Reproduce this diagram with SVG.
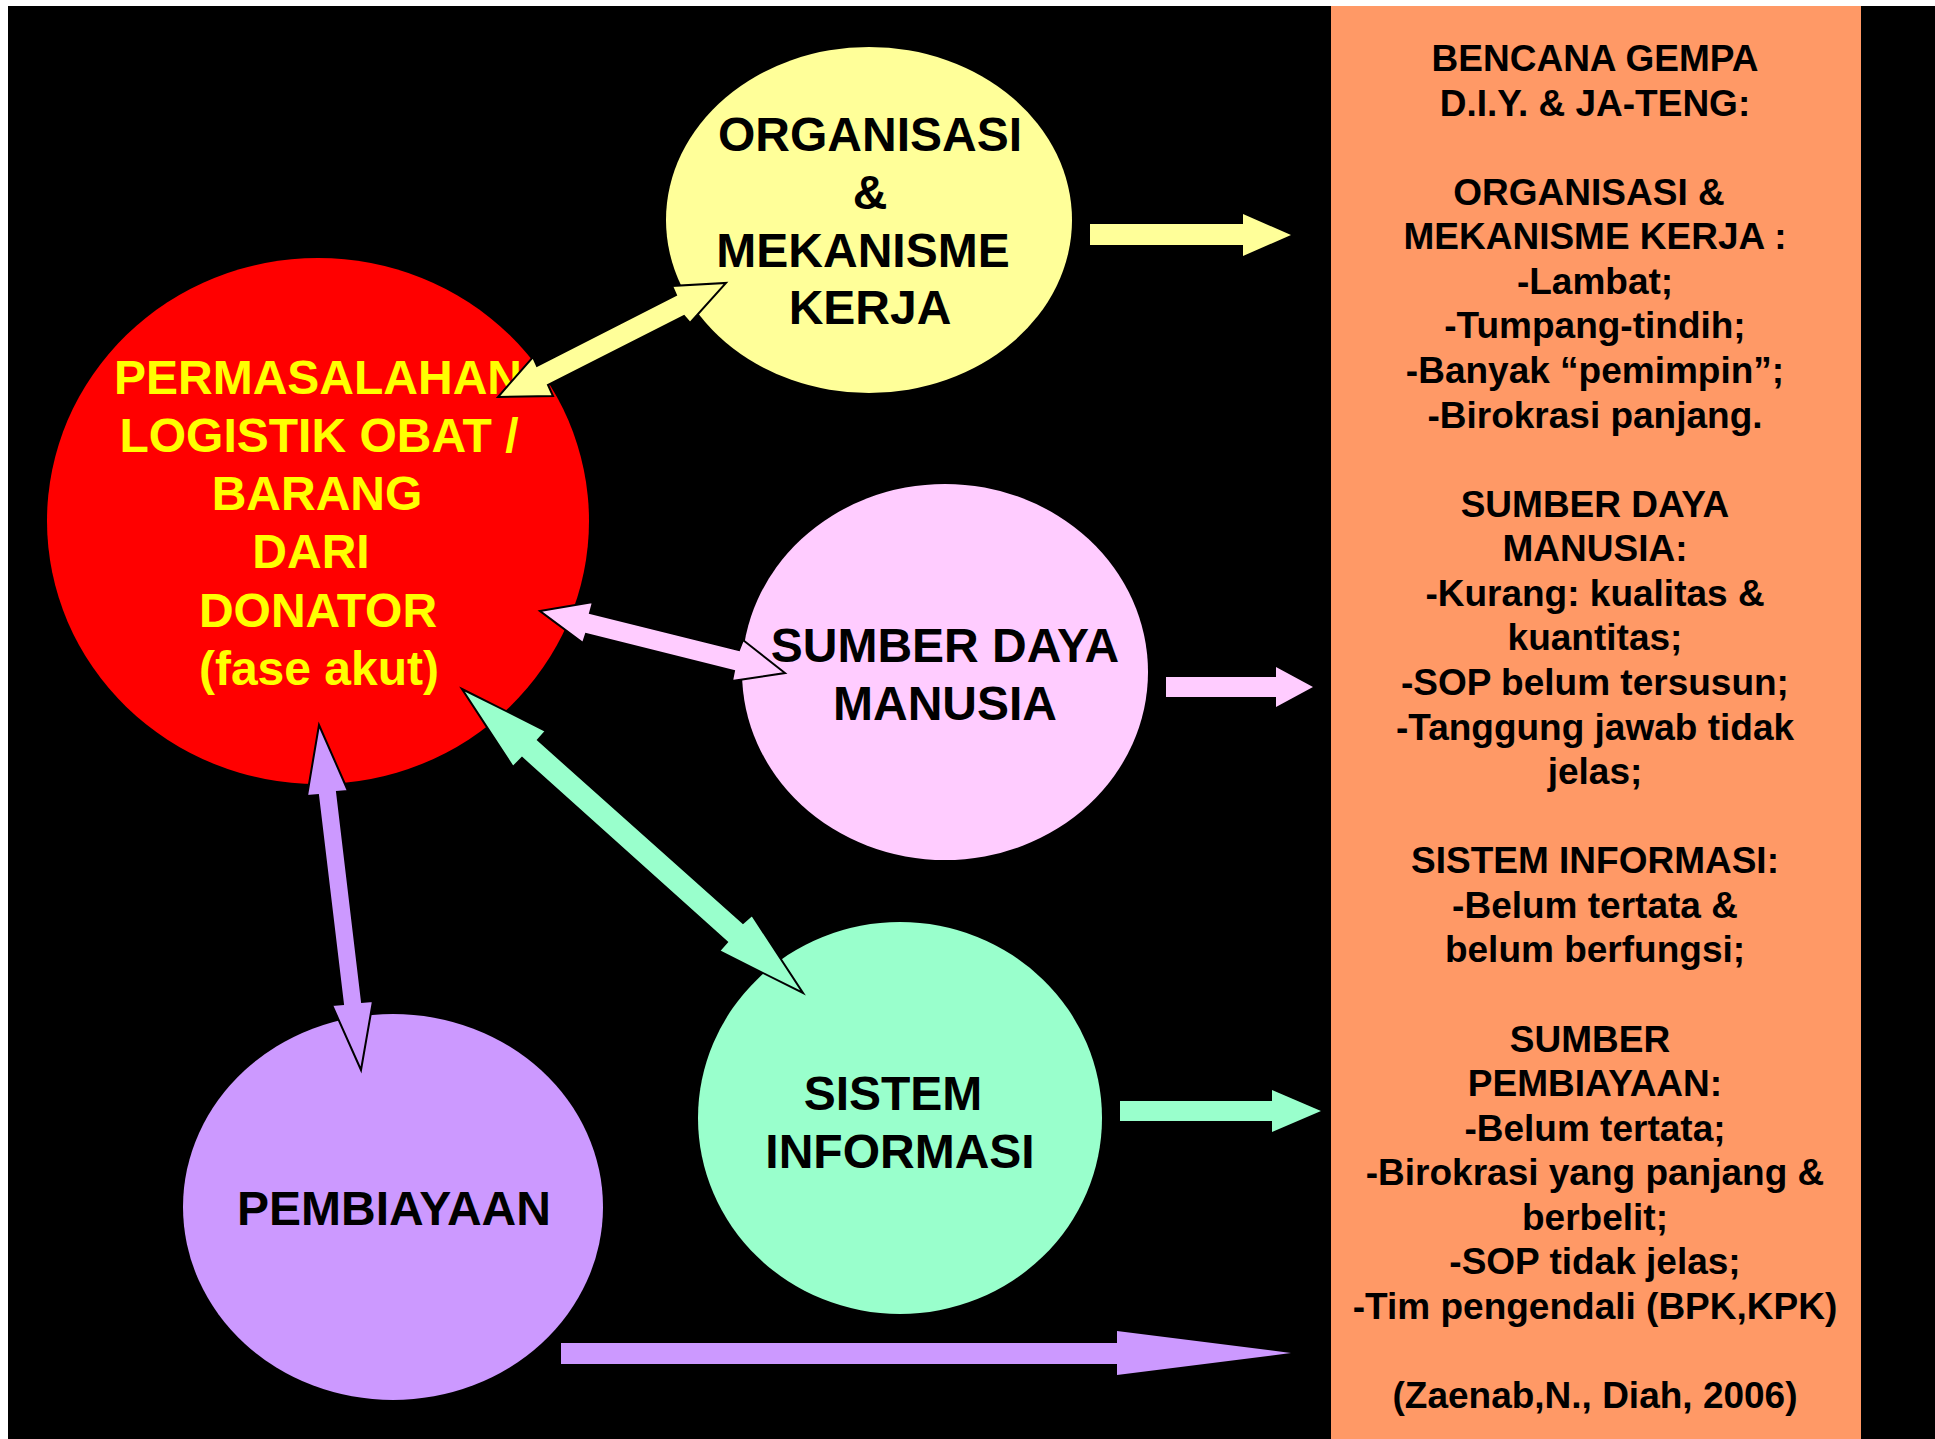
<svg xmlns="http://www.w3.org/2000/svg" width="1935" height="1439" viewBox="0 0 1935 1439">
<style>
.t{font-family:"Liberation Sans",Arial,sans-serif;font-weight:bold;text-anchor:middle}
.n{font-size:48px;fill:#000}
.r{font-size:48px;fill:#FFFF00}
.b{font-size:37px;fill:#000}
.dbl{stroke:#000;stroke-width:2;stroke-linejoin:miter}
</style>
<rect x="0" y="0" width="1935" height="1439" fill="#fff"/>
<rect x="8" y="6" width="1927" height="1433" fill="#000"/>

<g id="node-info-box">
<rect x="1331" y="6" width="530" height="1433" fill="#FF9966"/>
<text class="t b"><tspan x="1595" y="71">BENCANA GEMPA</tspan><tspan x="1595" y="115.6">D.I.Y. &amp; JA-TENG:</tspan><tspan x="1589" y="204.7">ORGANISASI &amp;</tspan><tspan x="1595" y="249.3">MEKANISME KERJA :</tspan><tspan x="1595" y="293.9">-Lambat;</tspan><tspan x="1595" y="338.4">-Tumpang-tindih;</tspan><tspan x="1595" y="383">-Banyak “pemimpin”;</tspan><tspan x="1595" y="427.6">-Birokrasi panjang.</tspan><tspan x="1595" y="516.7">SUMBER DAYA</tspan><tspan x="1595" y="561.3">MANUSIA:</tspan><tspan x="1595" y="605.8">-Kurang: kualitas &amp;</tspan><tspan x="1595" y="650.4">kuantitas;</tspan><tspan x="1595" y="695">-SOP belum tersusun;</tspan><tspan x="1595" y="739.6">-Tanggung jawab tidak</tspan><tspan x="1595" y="784.1">jelas;</tspan><tspan x="1595" y="873.3">SISTEM INFORMASI:</tspan><tspan x="1595" y="917.8">-Belum tertata &amp;</tspan><tspan x="1595" y="962.4">belum berfungsi;</tspan><tspan x="1590" y="1051.5">SUMBER</tspan><tspan x="1595" y="1096.1">PEMBIAYAAN:</tspan><tspan x="1595" y="1140.7">-Belum tertata;</tspan><tspan x="1595" y="1185.3">-Birokrasi yang panjang &amp;</tspan><tspan x="1595" y="1229.8">berbelit;</tspan><tspan x="1595" y="1274.4">-SOP tidak jelas;</tspan><tspan x="1595" y="1319">-Tim pengendali (BPK,KPK)</tspan><tspan x="1595" y="1408.1">(Zaenab,N., Diah, 2006)</tspan></text>
</g>

<g id="node-permasalahan">
<ellipse cx="318" cy="521" rx="271" ry="263" fill="#FF0000"/>
<text class="t r"><tspan x="318" y="394">PERMASALAHAN</tspan><tspan x="319" y="452">LOGISTIK OBAT /</tspan><tspan x="317" y="510">BARANG</tspan><tspan x="311" y="568">DARI</tspan><tspan x="318" y="627">DONATOR</tspan><tspan x="319" y="685">(fase akut)</tspan></text>
</g>

<g id="node-organisasi">
<ellipse cx="869" cy="220" rx="203" ry="173" fill="#FFFF99"/>
<text class="t n"><tspan x="870" y="151">ORGANISASI</tspan><tspan x="870" y="209">&amp;</tspan><tspan x="863" y="267">MEKANISME</tspan><tspan x="870" y="324">KERJA</tspan></text>
</g>

<g id="node-sdm">
<ellipse cx="945" cy="672" rx="203" ry="188" fill="#FFCCFF"/>
<text class="t n"><tspan x="945" y="662">SUMBER DAYA</tspan><tspan x="945" y="720">MANUSIA</tspan></text>
</g>

<g id="node-sistem-informasi">
<ellipse cx="900" cy="1118" rx="202" ry="196" fill="#99FFCC"/>
<text class="t n"><tspan x="893" y="1110">SISTEM</tspan><tspan x="900" y="1168">INFORMASI</tspan></text>
</g>

<g id="node-pembiayaan">
<ellipse cx="393" cy="1207" rx="210" ry="193" fill="#CC99FF"/>
<text class="t n" x="394" y="1225">PEMBIAYAAN</text>
</g>

<g id="connectors">
<polygon class="dbl" fill="#FFFF99" points="498,397 553,396 548,385 684,316 690,323 726,283 672,286 676,295 537,366 533,357"/>
<polygon class="dbl" fill="#FFCCFF" points="540,611 593,602 590,613 739,650 743,640 785,673 732,681 734,671 586,634 583,643"/>
<polygon class="dbl" fill="#99FFCC" points="462,689 546,731 538,740 743,923 752,915 803,993 719,951 727,942 522,758 513,767"/>
<polygon class="dbl" fill="#CC99FF" points="319,725 348,791 337,792 362,1002 373,1001 361,1070 332,1005 343,1004 318,795 307,796"/>
<polygon fill="#FFFF99" points="1090,224 1243,224 1243,214 1291,235 1243,256 1243,245 1090,245"/>
<polygon fill="#FFCCFF" points="1166,677 1276,677 1276,667 1313,687 1276,707 1276,697 1166,697"/>
<polygon fill="#99FFCC" points="1120,1101 1272,1101 1272,1090 1321,1111 1272,1132 1272,1121 1120,1121"/>
<polygon fill="#CC99FF" points="561,1343 1117,1343 1117,1331 1291,1353 1117,1375 1117,1364 561,1364"/>
</g>
</svg>
